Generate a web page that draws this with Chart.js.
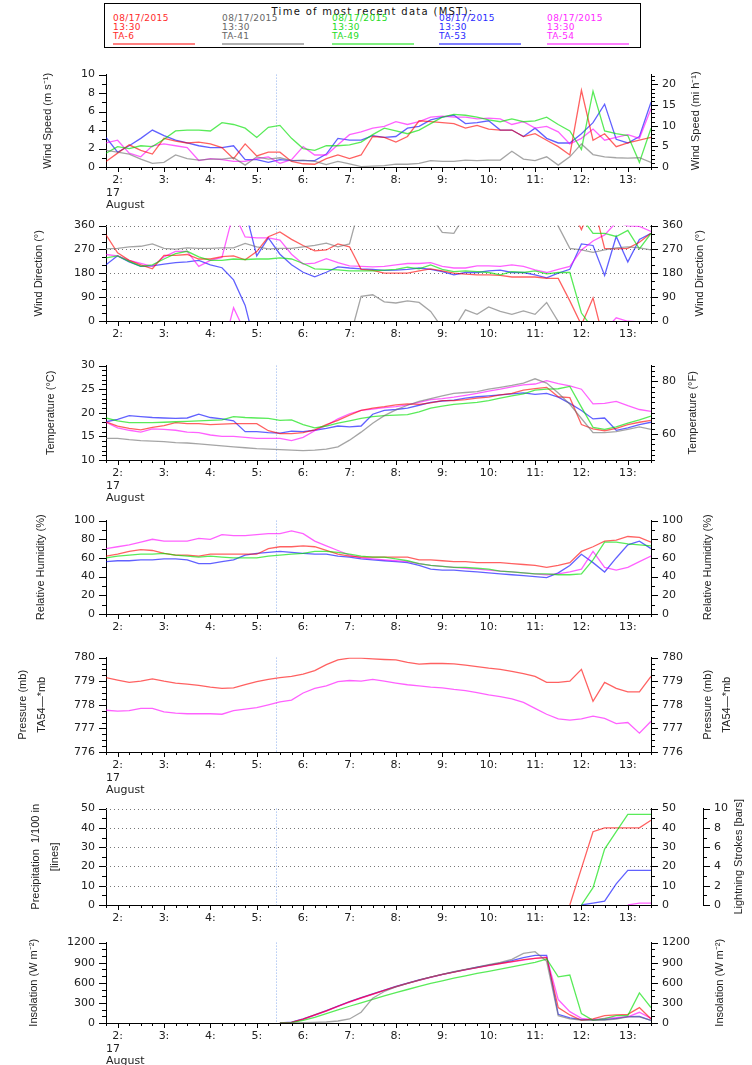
<!DOCTYPE html>
<html>
<head>
<meta charset="utf-8">
<title>TA stations - 17 August</title>
<script src="https://cdn.jsdelivr.net/npm/chart.js@4.4.0/dist/chart.umd.min.js"></script>
<style>
  body { margin: 0; background: #fff; }
  #page { position: relative; width: 752px; height: 1065px; overflow: hidden; }
  #page canvas { position: absolute; left: 0; }
  #legend { position: absolute; left: 104px; top: 3px; width: 535px; height: 43px; border: 1px solid #000;
            font-family: 'DejaVu Sans', sans-serif; }
  #legend-title { position: absolute; left: 0; right: 0; top: 2px; text-align: center; font-size: 10px;
                  line-height: 12px; letter-spacing: 1.3px; color: #111; }
  .station { position: absolute; top: 10px; font-size: 9px; line-height: 9px; letter-spacing: 0.4px; white-space: nowrap; }
  .station i { position: absolute; left: 0; top: 29px; width: 82px; height: 1.5px; }
</style>
</head>
<body>
<div id="page">
  <div id="legend">
    <div id="legend-title">Time of most recent data (MST):</div>
    <div class="station" style="left:8px;color:#ff2a2a">08/17/2015<br>13:30<br>TA-6<i style="background:#ff8080"></i></div>
    <div class="station" style="left:117px;color:#666">08/17/2015<br>13:30<br>TA-41<i style="background:#b0b0b0"></i></div>
    <div class="station" style="left:227px;color:#1fdc1f">08/17/2015<br>13:30<br>TA-49<i style="background:#80f080"></i></div>
    <div class="station" style="left:334px;color:#2a2aff">08/17/2015<br>13:30<br>TA-53<i style="background:#8080ff"></i></div>
    <div class="station" style="left:442px;color:#ff2aff">08/17/2015<br>13:30<br>TA-54<i style="background:#ff80ff"></i></div>
  </div>
</div>
<script>
// Observations every 15 minutes, 17 August, hours MST
const TIMES = [1.75, 2, 2.25, 2.5, 2.75, 3, 3.25, 3.5, 3.75, 4, 4.25, 4.5, 4.75, 5, 5.25, 5.5, 5.75, 6,
  6.25, 6.5, 6.75, 7, 7.25, 7.5, 7.75, 8, 8.25, 8.5, 8.75, 9, 9.25, 9.5, 9.75, 10, 10.25, 10.5, 10.75,
  11, 11.25, 11.5, 11.75, 12, 12.25, 12.5, 12.75, 13, 13.25, 13.5];
const HOURS = [2, 3, 4, 5, 6, 7, 8, 9, 10, 11, 12, 13];
const SUNRISE = 5.42;
const MPH_PER_MS = 2.23694;

// station order: TA-6, TA-41, TA-49, TA-53, TA-54
const STATION_COLORS = ['rgba(255,0,0,0.62)', 'rgba(110,110,110,0.62)', 'rgba(0,225,0,0.65)',
  'rgba(0,0,255,0.62)', 'rgba(255,0,255,0.62)'];

// Wind speed (m/s)
const speedTA6 = [0.6,1.5,2.4,1.8,1.4,3.1,2.8,2.6,2.7,2.5, 2.1,0.9,2.5,1.2,1.6,1.6,0.6,0.35,0.3,0.9,
  1.3,0.9,1.3,3.3,3.2,2.7,3.3,5.0,4.9,4.8, 4.7,4.2,4.5,4.1,4.0,4.0,3.3,3.6,2.9,2.2, 1.3,8.3,2.9,3.6,2.2,2.6,2.9,3.2];
const speedTA41 = [1.8,1.6,1.4,0.85,0.4,0.5,1.3,0.9,0.75,0.85, 0.85,1.0,0.2,1.1,0.85,1.0,0.7,0.75,0.6,0.25,
  0.6,0.35,0.05,0.1,0.15,0.3,0.3,0.4,0.7,0.6, 0.6,0.75,0.7,0.75,0.75,1.7,0.85,0.7,1.1,0.2, 1.1,2.5,1.35,1.1,1.0,0.95,1.0,0.5];
const speedTA49 = [1.5,2.2,2.0,2.3,2.2,3.0,3.9,4.0,4.0,3.9, 4.8,4.6,4.2,3.2,4.3,4.5,3.1,2.0,1.8,2.3,
  2.3,2.4,2.7,3.5,4.2,3.9,3.6,4.0,4.7,5.4, 5.7,5.6,5.4,5.1,4.9,5.2,4.9,5.0,5.4,4.6, 3.9,1.9,8.2,3.9,3.6,3.4,0.5,4.2];
const speedTA53 = [3.2,1.6,2.3,3.1,4.0,3.4,2.9,2.6,2.3,2.1, 2.1,2.3,0.8,0.8,0.5,0.8,0.7,0.7,0.7,1.4,
  3.1,2.9,2.9,3.4,3.2,3.3,4.2,4.4,5.1,5.4, 5.6,4.7,4.8,5.0,4.0,4.0,3.3,4.2,3.1,2.6, 2.6,3.6,4.8,6.8,3.0,2.6,3.3,7.0];
const speedTA54 = [2.6,2.9,1.5,1.1,2.3,2.5,2.3,2.1,0.7,0.9, 0.8,0.6,0.6,0.9,1.1,0.4,0.8,2.2,1.3,1.3,
  2.4,3.5,3.8,4.2,4.4,4.9,4.6,4.9,5.4,5.5, 5.4,5.4,5.2,5.3,5.2,4.6,4.9,4.2,4.4,3.8, 2.5,3.1,4.1,2.9,3.2,3.5,3.1,6.3];

// Wind direction (degrees, unwrapped so the trace runs off one edge and back in at the other)
const dirTA6 = [325,257,229,212,197,248,248,251,234,234, 243,246,231,262,318,336,308,285,265,268,
  291,280,195,191,181,181,181,189,197,189, 181,177,174,174,172,166,166,166,161,161, 76,-15,87,-86,-88,-86,-63,-29];
const dirTA41 = [272,274,280,282,291,274,271,276,274,274, 276,276,293,280,272,274,274,280,285,294,
  280,291,453,459,432,428,436,430,396,334, 331,402,385,413,396,385,398,385,430,358, 274,268,259,268,276,280,276,268];
const dirTA49 = [238,246,225,206,212,234,254,263,242,229, 229,234,232,234,234,238,234,217,197,195,
  193,189,189,189,192,195,203,197,212,195, 186,189,186,183,174,186,183,189,178,183, 183,30,-29,-29,-41,-18,-88,-29];
const dirTA53 = [212,246,223,206,208,215,220,223,229,212, 201,155,59,-114,-46,-108,-148,-176,-193,-176,
  -156,-160,-163,-165,-169,-168,-165,-160,-165,-174, -186,-177,-177,-171,-168,-177,-177,-186,-197,-179, -165,-69,-75,-188,-41,-137,-52,-29];
const dirTA54 = [251,246,229,217,206,242,263,263,206,229, 240,410,317,314,314,305,252,215,218,235,
  220,208,206,204,206,212,217,217,220,206, 200,200,208,208,206,212,206,193,183,195, 206,268,302,325,372,359,357,338];

// Temperature (deg C)
const tempTA6 = [18.1,17.2,16.7,16.4,16.9,17.3,17.9,17.7,17.7,17.5, 17.6,17.7,17.7,17.7,16.2,15.6,15.6,15.8,16.4,17.5,
  18.4,19.5,20.5,21.0,21.3,21.7,21.9,21.8,22.1,22.6, 22.6,22.8,23.1,23.3,23.8,24.1,24.8,25.1,25.4,23.4, 23.2,17.5,16.6,16.2,16.7,17.5,18.0,18.4];
const tempTA41 = [14.6,14.6,14.3,14.1,14.0,13.9,13.7,13.6,13.4,13.2, 13.0,12.8,12.6,12.4,12.3,12.2,12.1,12.0,12.1,12.3,
  12.8,14.2,15.9,17.8,19.4,20.6,21.6,22.4,23.0,23.6, 24.1,24.3,24.5,25.0,25.4,25.8,26.3,27.2,26.3,24.2, 21.8,18.8,15.8,15.8,16.0,16.5,17.0,16.5];
const tempTA49 = [18.9,18.3,17.9,17.9,17.9,18.0,18.1,18.2,18.3,18.4, 18.5,19.2,19.0,18.9,18.8,18.4,18.5,17.5,16.8,17.2,
  17.8,18.3,18.8,19.2,19.4,19.5,19.6,20.2,21.0,21.4, 21.8,22.0,22.2,22.6,23.1,23.6,24.0,24.8,25.0,25.1, 25.6,21.2,16.9,16.5,17.0,17.8,18.5,19.3];
const tempTA53 = [18.1,18.6,19.4,19.2,19.0,18.9,18.8,18.9,19.7,19.0, 18.7,18.3,16.0,16.0,15.8,15.7,16.1,16.0,16.3,16.7,
  17.2,17.0,17.2,19.7,20.5,20.7,21.0,21.6,22.2,22.5, 22.7,23.1,23.4,23.6,23.8,24.0,24.2,23.9,24.1,23.3, 22.0,20.5,18.7,18.9,16.3,16.8,17.5,18.0];
const tempTA54 = [18.0,16.8,16.3,15.9,16.6,16.5,16.3,15.9,15.8,15.3, 15.0,15.0,14.8,14.6,14.6,14.6,14.1,14.8,16.2,17.3,
  18.7,19.8,20.5,20.8,21.1,21.3,21.7,22.2,22.8,23.0, 23.3,23.7,24.1,24.6,25.0,25.5,25.9,26.1,26.8,26.2, 25.7,25.0,21.9,22.0,22.4,21.5,20.7,20.3];

// Relative humidity (%)
const rhTA6 = [62,64,67,69,68,65,63,63,62,64, 64,64,64,64,70,72,72,73,72,68, 64,62,61,61,61,61,61,58,58,57,
  56,56,55,55,55,54,53,52,50,52, 55,67,72,78,79,83,82,77];
const rhTA49 = [60,62,63,64,64,65,63,62,61,62, 61,60,60,60,62,63,64,65,67,67, 66,64,62,61,61,59,57,54,52,51,
  50,50,49,48,46,45,44,43,43,42, 42,43,58,77,77,75,74,73];
const rhTA53 = [56,57,57,58,58,59,59,58,54,54, 56,58,63,65,66,67,66,65,64,64, 62,61,59,58,57,56,55,52,48,47,
  47,46,45,44,43,42,41,40,39,44, 52,64,55,45,60,74,78,70];
const rhTA54 = [70,72,74,77,80,78,78,78,81,80, 85,84,84,85,86,86,89,86,78,73, 68,63,60,59,58,57,56,54,52,51,
  50,49,48,47,46,45,44,43,42,43, 45,48,67,50,47,50,56,62];

// Pressure (mb)
const presTA6 = [779.15,779.05,778.95,779.0,779.1,779.0,778.92,778.88,778.82,778.75, 778.7,778.72,778.85,778.98,779.08,779.15,779.2,779.3,779.45,779.7,
  779.9,779.98,779.98,779.95,779.92,779.9,779.8,779.72,779.75,779.75, 779.73,779.68,779.62,779.55,779.5,779.42,779.32,779.2,778.95,778.95,
  779.0,779.5,778.15,778.95,778.7,778.55,778.55,779.2];
const presTA54 = [777.77,777.73,777.75,777.85,777.85,777.7,777.65,777.62,777.63,777.62, 777.6,777.75,777.82,777.88,778.0,778.12,778.2,778.5,778.7,778.8,
  778.98,779.03,779.0,779.08,779.0,778.92,778.85,778.8,778.75,778.72, 778.65,778.6,778.52,778.42,778.35,778.25,778.1,777.85,777.6,777.4,
  777.35,777.4,777.52,777.42,777.2,777.25,776.8,777.3];

// Precipitation (1/100 in), nothing recorded before the storm
const n = null;
const precipTA6 = [n,n,n,n,n,n,n,n,n,n, n,n,n,n,n,n,n,n,n,n, n,n,n,n,n,n,n,n,n,n, n,n,n,n,n,n,n,n,n,n, 0,19,38,40,40,40,40,44];
const precipTA49 = [n,n,n,n,n,n,n,n,n,n, n,n,n,n,n,n,n,n,n,n, n,n,n,n,n,n,n,n,n,n, n,n,n,n,n,n,n,n,n,n, n,0,9,29,38,47,47,47];
const precipTA53 = [n,n,n,n,n,n,n,n,n,n, n,n,n,n,n,n,n,n,n,n, n,n,n,n,n,n,n,n,n,n, n,n,n,n,n,n,n,n,n,n, n,0,1,2,11,18,18,18];
const precipTA54 = [n,n,n,n,n,n,n,n,n,n, n,n,n,n,n,n,n,n,n,n, n,n,n,n,n,n,n,n,n,n, n,n,n,n,n,n,n,n,n,n, n,n,n,n,n,0,1,1];

// Insolation (W m-2), from sunrise
const solTA6 = [n,n,n,n,n,n,n,n,n,n, n,n,n,n,n,0,10,59,120,181, 250,317,375,430,487,543,592,640,683,725,
  760,795,828,860,888,915,945,965,975,230, 120,40,60,110,120,130,230,60];
const solTA41 = [n,n,n,n,n,n,n,n,n,n, n,n,n,n,n,0,0,5,10,15, 30,60,160,370,470,540,592,640,685,727,
  765,800,835,870,905,950,1040,1065,920,110, 60,45,40,45,60,90,90,40];
const solTA49 = [n,n,n,n,n,n,n,n,n,n, n,n,n,n,n,0,5,40,85,140, 195,250,300,352,405,455,500,545,590,630,
  670,705,740,772,805,838,870,905,955,690, 715,140,40,65,110,110,450,230];
const solTA53 = [n,n,n,n,n,n,n,n,n,n, n,n,n,n,n,0,12,62,122,185, 252,320,378,433,490,545,595,642,685,727,
  763,798,832,865,895,930,975,1010,1010,130, 75,50,50,50,70,95,100,40];
const solTA54 = [n,n,n,n,n,n,n,n,n,n, n,n,n,n,n,0,8,55,115,178, 247,313,372,428,485,540,590,638,682,722,
  758,792,825,857,885,912,940,965,985,350, 170,70,50,70,80,90,160,70];

const TICK_FONT = { family: 'DejaVu Sans', size: 11 };
const TITLE_FONT = '"Liberation Sans Narrow", "Liberation Sans", sans-serif';
const INK = '#222';

function line(values, colorIndex, shift = 0) {
  return {
    data: TIMES.map((t, i) => ({ x: t, y: values[i] == null ? null : values[i] + shift })),
    borderColor: STATION_COLORS[colorIndex],
    borderWidth: 1.3,
    pointRadius: 0,
    tension: 0,
    fill: false,
    spanGaps: false
  };
}

function tickValues(min, max, step) {
  const out = [];
  const count = Math.round((max - min) / step);
  for (let k = 0; k <= count; k++) out.push(+(min + k * step).toFixed(4));
  return out;
}

// left axes get a Chart.js title; right-hand titles read bottom-to-top too, so the plugin draws them
function yAxis(spec, position, width, weight) {
  const values = tickValues(spec.min, spec.max, spec.minor);
  const showTitle = position === 'left' && spec.title;
  return {
    type: 'linear', position, weight, min: spec.min, max: spec.max,
    afterFit: s => { s.width = width; },
    afterBuildTicks: s => { s.ticks = values.map(v => ({ value: v })); },
    grid: { display: false, drawTicks: false },
    border: { display: true, color: '#000', width: 1 },
    ticks: {
      autoSkip: false, padding: 11, color: INK, font: TICK_FONT,
      callback: v => spec.labels.some(l => Math.abs(l - v) < 1e-6) ? String(Math.round(v)) : ''
    },
    title: showTitle ? {
      display: true, text: spec.title, color: INK,
      font: { family: TITLE_FONT, size: 11, lineHeight: spec.lh || 1.2 },
      padding: { top: spec.pad, bottom: 0 }
    } : { display: false }
  };
}

function xAxis(withDate, height) {
  return {
    type: 'linear', min: TIMES[0], max: TIMES[TIMES.length - 1],
    afterFit: s => { s.height = height; },
    afterBuildTicks: s => { s.ticks = TIMES.map(v => ({ value: v })); },
    grid: { display: false, drawTicks: false },
    border: { display: true, color: '#000', width: 1 },
    ticks: {
      autoSkip: false, maxRotation: 0, padding: 7, color: INK, font: TICK_FONT,
      callback: v => HOURS.includes(v) ? v + ':' : ''
    },
    title: withDate ? {
      display: true, text: ['17', 'August'], align: 'start', color: INK,
      font: { family: 'DejaVu Sans', size: 11, lineHeight: 1.1 }, padding: 0
    } : { display: false }
  };
}

// dotted grid, sunrise marker, long/short tick marks and right-hand titles
const marks = {
  id: 'marks',
  beforeDatasetsDraw(chart, args, opts) {
    const { ctx, chartArea: a } = chart;
    ctx.save();
    ctx.lineWidth = 1;
    if (opts.grid) {
      const s = chart.scales.y;
      ctx.strokeStyle = '#777';
      ctx.setLineDash([1, 3]);
      opts.grid.forEach(v => {
        const y = Math.round(s.getPixelForValue(v)) + 0.5;
        ctx.beginPath(); ctx.moveTo(a.left, y); ctx.lineTo(a.right, y); ctx.stroke();
      });
    }
    const x = Math.round(chart.scales.x.getPixelForValue(SUNRISE)) + 0.5;
    ctx.strokeStyle = '#8fb0ee';
    ctx.setLineDash([1, 2]);
    ctx.beginPath(); ctx.moveTo(x, a.top); ctx.lineTo(x, a.bottom); ctx.stroke();
    ctx.restore();
  },
  afterDraw(chart, args, opts) {
    const { ctx, chartArea: a } = chart;
    ctx.save();
    ctx.strokeStyle = '#000';
    ctx.lineWidth = 1;
    ctx.beginPath();
    Object.values(chart.scales).forEach(s => {
      s.ticks.forEach(t => {
        const major = t.label !== '' && t.label != null;
        const p = Math.round(s.getPixelForValue(t.value)) + 0.5;
        if (s.isHorizontal()) {
          ctx.moveTo(p, s.top); ctx.lineTo(p, s.top + (major ? 5 : 3));
        } else if (s.position === 'left') {
          ctx.moveTo(s.right, p); ctx.lineTo(s.right - (major ? 7 : 4), p);
        } else {
          ctx.moveTo(s.left, p); ctx.lineTo(s.left + (major ? 7 : 4), p);
        }
      });
    });
    ctx.stroke();

    if (opts.rightTitle) {
      const { text, x, lh } = opts.rightTitle;
      const rows = Array.isArray(text) ? text : [text];
      ctx.translate(x, (a.top + a.bottom) / 2);
      ctx.rotate(-Math.PI / 2);
      ctx.font = '11px ' + TITLE_FONT;
      ctx.fillStyle = INK;
      ctx.textAlign = 'center';
      ctx.textBaseline = 'middle';
      rows.forEach((row, i) => ctx.fillText(row, 0, i * (lh || 0)));
    }
    ctx.restore();
  }
};

function panel(cfg) {
  const PAD = 10;
  const xH = cfg.date ? 44 : 22;
  const canvas = document.createElement('canvas');
  canvas.width = 752;
  canvas.height = PAD + (cfg.bottom - cfg.top) + xH;
  canvas.style.top = (cfg.top - PAD) + 'px';
  document.getElementById('page').appendChild(canvas);

  const scales = {
    x: xAxis(cfg.date, xH),
    y: yAxis(cfg.left, 'left', 106, 0),
    y1: yAxis(cfg.right, 'right', cfg.extra ? 52 : 101, 0)
  };
  if (cfg.extra) scales.y2 = yAxis(cfg.extra, 'right', 49, 1);

  new Chart(canvas, {
    type: 'line',
    data: { datasets: cfg.datasets },
    options: {
      responsive: false,
      animation: false,
      events: [],
      layout: { padding: { top: PAD, left: 0, right: 0, bottom: 0 } },
      scales,
      plugins: {
        legend: { display: false }, tooltip: { enabled: false },
        marks: { grid: cfg.grid, rightTitle: cfg.rightTitle }
      }
    },
    plugins: [marks]
  });
}

// Wind speed
panel({
  top: 67, bottom: 167, date: true,
  left: { min: 0, max: 10, minor: 1, labels: [0, 2, 4, 6, 8, 10], title: 'Wind Speed (m s\u207B\u00B9)', pad: 41 },
  right: { min: 0, max: 10 * MPH_PER_MS, minor: 1, labels: [0, 5, 10, 15, 20] },
  rightTitle: { text: 'Wind Speed (mi h\u207B\u00B9)', x: 696 },
  datasets: [line(speedTA41, 1), line(speedTA49, 2), line(speedTA6, 0), line(speedTA54, 4), line(speedTA53, 3)]
});

// Wind direction
panel({
  top: 218, bottom: 321, date: false, grid: [90, 180, 270, 360],
  left: { min: 0, max: 360, minor: 30, labels: [0, 90, 180, 270, 360], title: 'Wind Direction (\u00B0)', pad: 32 },
  right: { min: 0, max: 360, minor: 30, labels: [0, 90, 180, 270, 360] },
  rightTitle: { text: 'Wind Direction (\u00B0)', x: 700 },
  datasets: [[dirTA41, 1], [dirTA49, 2], [dirTA6, 0], [dirTA54, 4], [dirTA53, 3]]
    .flatMap(([v, c]) => [0, -360, 360].map(shift => line(v, c, shift)))
});

// Temperature
panel({
  top: 358, bottom: 460, date: true,
  left: { min: 10, max: 30, minor: 1, labels: [10, 15, 20, 25, 30], title: 'Temperature (\u00B0C)', pad: 44 },
  right: { min: 50, max: 86, minor: 2, labels: [60, 80] },
  rightTitle: { text: 'Temperature (\u00B0F)', x: 693 },
  datasets: [line(tempTA41, 1), line(tempTA49, 2), line(tempTA6, 0), line(tempTA54, 4), line(tempTA53, 3)]
});

// Relative humidity
panel({
  top: 513, bottom: 614, date: false,
  left: { min: 0, max: 100, minor: 10, labels: [0, 20, 40, 60, 80, 100], title: 'Relative Humidity (%)', pad: 34 },
  right: { min: 0, max: 100, minor: 10, labels: [0, 20, 40, 60, 80, 100] },
  rightTitle: { text: 'Relative Humidity (%)', x: 708 },
  datasets: [line(rhTA49, 2), line(rhTA6, 0), line(rhTA54, 4), line(rhTA53, 3)]
});

// Pressure
panel({
  top: 650, bottom: 752, date: true,
  left: { min: 776, max: 780, minor: 0.25, labels: [776, 777, 778, 779, 780],
          title: ['Pressure (mb)', 'TA54\u2014*mb'], lh: 1.75, pad: 13 },
  right: { min: 776, max: 780, minor: 0.25, labels: [776, 777, 778, 779, 780] },
  rightTitle: { text: ['Pressure (mb)', 'TA54\u2014*mb'], x: 708, lh: 19 },
  datasets: [line(presTA6, 0), line(presTA54, 4)]
});

// Precipitation and lightning
panel({
  top: 801, bottom: 905, date: false, grid: [10, 20, 30, 40, 50],
  left: { min: 0, max: 50, minor: 5, labels: [0, 10, 20, 30, 40, 50],
          title: ['Precipitation  1/100 in', '[lines]'], lh: 1.75, pad: 26 },
  right: { min: 0, max: 50, minor: 5, labels: [0, 10, 20, 30, 40, 50] },
  extra: { min: 0, max: 10, minor: 1, labels: [0, 2, 4, 6, 8, 10] },
  rightTitle: { text: 'Lightning Strokes [bars]', x: 739 },
  datasets: [line(precipTA49, 2), line(precipTA6, 0), line(precipTA54, 4), line(precipTA53, 3)]
});

// Insolation
panel({
  top: 935, bottom: 1023, date: true,
  left: { min: 0, max: 1200, minor: 100, labels: [0, 300, 600, 900, 1200], title: 'Insolation (W m\u207B\u00B2)', pad: 27 },
  right: { min: 0, max: 1200, minor: 100, labels: [0, 300, 600, 900, 1200] },
  rightTitle: { text: 'Insolation (W m\u207B\u00B2)', x: 720 },
  datasets: [line(solTA41, 1), line(solTA49, 2), line(solTA6, 0), line(solTA54, 4), line(solTA53, 3)]
});
</script>
</body>
</html>
